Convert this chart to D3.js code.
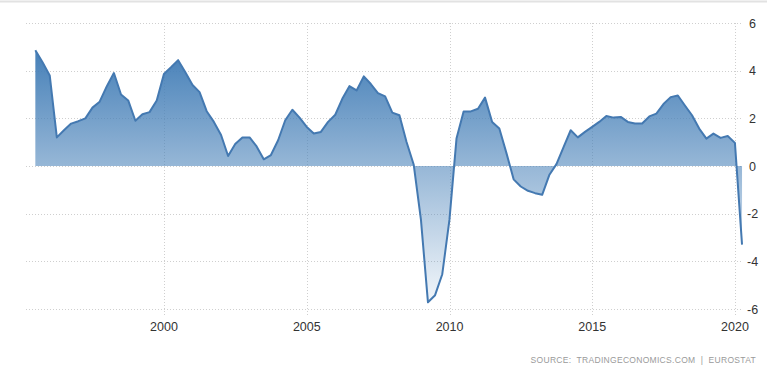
<!DOCTYPE html>
<html>
<head>
<meta charset="utf-8">
<script src="https://cdn.jsdelivr.net/npm/d3@7"></script>
<style>
  body { margin: 0; background: #fff; }
  svg { display: block; font-family: "Liberation Sans", Arial, sans-serif; }
</style>
</head>
<body>
<div id="container"></div>
<script>
// quarterly GDP growth (YoY %), 1995 Q2 .. 2020 Q1
const firstYear = 1995;
const firstQuarter = 2;
const growth = [
  4.86, 4.35, 3.8,
  1.2, 1.5, 1.78, 1.88,
  2.0, 2.45, 2.7, 3.35,
  3.9, 3.0, 2.75, 1.9,
  2.17, 2.26, 2.75, 3.86,
  4.14, 4.44, 3.93, 3.4,
  3.1, 2.3, 1.85, 1.3,
  0.42, 0.92, 1.2, 1.2,
  0.82, 0.28, 0.46, 1.08,
  1.92, 2.36, 2.03, 1.64,
  1.36, 1.43, 1.85, 2.15,
  2.82, 3.35, 3.17, 3.76,
  3.44, 3.06, 2.92, 2.24,
  2.13, 1.01, 0.05, -2.25,
  -5.72, -5.42, -4.54, -2.25,
  1.15, 2.29, 2.29, 2.4,
  2.87, 1.85, 1.57, 0.53,
  -0.56, -0.86, -1.04, -1.14,
  -1.21, -0.38, 0.08, 0.8,
  1.5, 1.2, 1.43, 1.64,
  1.85, 2.1, 2.03, 2.06,
  1.85, 1.78, 1.78, 2.08,
  2.2, 2.6, 2.89, 2.96,
  2.54, 2.13, 1.57, 1.15,
  1.36, 1.18, 1.26, 0.97,
  -3.3
];
const xTicks = [2000, 2005, 2010, 2015, 2020];
const yTicks = [-6, -4, -2, 0, 2, 4, 6];
const source = 'SOURCE:  TRADINGECONOMICS.COM  |  EUROSTAT';

const width = 767;
const height = 373;

// each point sits at the end of its quarter
const data = growth.map((v, i) => {
  const q = firstQuarter - 1 + i;
  const year = firstYear + Math.floor(q / 4);
  return { date: new Date(year, (q % 4) * 3 + 3, 0), value: v };
});

const x = d3.scaleTime()
  .domain([new Date(2000, 0, 1), new Date(2020, 0, 1)])
  .range([164, 735]);
const y = d3.scaleLinear().domain([-6, 6]).range([309, 23]);

const svg = d3.select('#container').append('svg')
  .attr('width', width)
  .attr('height', height);

// top border
svg.append('line')
  .attr('x1', 0).attr('x2', width)
  .attr('y1', 1.5).attr('y2', 1.5)
  .attr('stroke', '#e2e2e2')
  .attr('stroke-width', 2);

const grid = svg.append('g')
  .attr('stroke', '#cfcfcf')
  .attr('stroke-dasharray', '1,2');

grid.selectAll('.hgrid')
  .data(yTicks)
  .enter().append('line')
  .attr('x1', 26).attr('x2', 741)
  .attr('y1', d => Math.round(y(d)) + 0.5)
  .attr('y2', d => Math.round(y(d)) + 0.5);

grid.selectAll('.vgrid')
  .data(xTicks)
  .enter().append('line')
  .attr('x1', d => Math.round(x(new Date(d, 0, 1))) + 0.5)
  .attr('x2', d => Math.round(x(new Date(d, 0, 1))) + 0.5)
  .attr('y1', y(6))
  .attr('y2', 316);

const grad = svg.append('defs').append('linearGradient')
  .attr('id', 'fillGrad')
  .attr('x1', 0).attr('y1', 0).attr('x2', 0).attr('y2', 1);
grad.append('stop').attr('offset', '0%')
  .attr('stop-color', '#4680b8').attr('stop-opacity', 1);
grad.append('stop').attr('offset', '100%')
  .attr('stop-color', '#4a82b9').attr('stop-opacity', 0.07);

const area = d3.area()
  .x(d => x(d.date))
  .y0(y(0))
  .y1(d => y(d.value));

const line = d3.line()
  .x(d => x(d.date))
  .y(d => y(d.value));

svg.append('path')
  .datum(data)
  .attr('d', area)
  .attr('fill', 'url(#fillGrad)');

svg.append('path')
  .datum(data)
  .attr('d', line)
  .attr('fill', 'none')
  .attr('stroke', '#4479b1')
  .attr('stroke-width', 2)
  .attr('stroke-linejoin', 'round');

// y labels on the right
svg.append('g')
  .selectAll('text')
  .data(yTicks)
  .enter().append('text')
  .attr('x', d => d < 0 ? 747 : 749)
  .attr('y', d => y(d) + 4.5)
  .attr('fill', '#333')
  .attr('font-size', 12.5)
  .text(d => d);

// x labels
svg.append('g')
  .selectAll('text')
  .data(xTicks)
  .enter().append('text')
  .attr('x', d => x(new Date(d, 0, 1)))
  .attr('y', 331)
  .attr('text-anchor', 'middle')
  .attr('fill', '#333')
  .attr('font-size', 12.5)
  .text(d => d);

svg.append('text')
  .attr('x', 756)
  .attr('y', 363)
  .attr('text-anchor', 'end')
  .attr('fill', '#9a9a9a')
  .attr('font-size', 8.5)
  .attr('letter-spacing', 0.3)
  .style('white-space', 'pre')
  .text(source);
</script>
</body>
</html>
